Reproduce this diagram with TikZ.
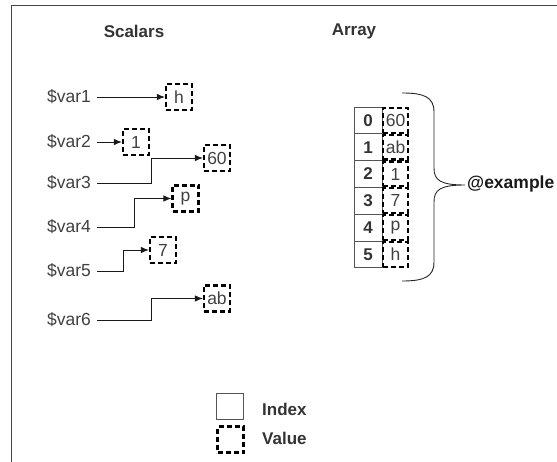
\documentclass[tikz,border=0pt]{standalone}
\usepackage{fontspec}
\setmainfont{Liberation Sans}
\usetikzlibrary{arrows.meta}
\definecolor{txt}{HTML}{404040}
\definecolor{ttl}{HTML}{333333}
\definecolor{frm}{HTML}{444444}
\definecolor{idx}{HTML}{555555}
\tikzset{
  base/.style={font=\fontsize{17.5}{20}\selectfont},
  lbl/.style={base, text=txt, anchor=west, inner xsep=0pt, inner ysep=1pt},
  ttlnode/.style={base, text=ttl, font=\fontsize{17}{20}\selectfont\bfseries},
  valbox/.style={base, text=txt, draw=black, line width=2.2pt, dash pattern=on 5pt off 3pt,
     minimum width=26pt, minimum height=26pt, inner sep=0pt},
  idxbox/.style={base, text=ttl, font=\fontsize{17}{20}\selectfont\bfseries, draw=idx, line width=0.8pt,
     minimum width=28pt, minimum height=26.8pt, inner sep=0pt},
  avalbox/.style={valbox, minimum width=25pt, minimum height=24.8pt},
  conn/.style={draw=black!90, line width=0.9pt, -{Latex[length=8pt,width=6.5pt]}, shorten <=6pt},
}
\begin{document}
\begin{tikzpicture}[x=1pt,y=-1pt]
\useasboundingbox (0,0) rectangle (557,462);
% frame
\draw[frm, line width=1pt] (11.5,462) -- (11.5,6) -- (557,6);
% titles
\node[ttlnode] (tS) at (134,31) {Scalars};
\node[ttlnode] (tA) at (354,31) {Array};
% scalar labels
\node[lbl] (v1) at (47,97) {\$var1};
\node[lbl] (v2) at (47,142) {\$var2};
\node[lbl] (v3) at (47,183) {\$var3};
\node[lbl] (v4) at (47,227) {\$var4};
\node[lbl] (v5) at (47,271) {\$var5};
\node[lbl] (v6) at (47,320) {\$var6};
% scalar values
\node[valbox] (bh) at (179,97) {h};
\node[valbox] (b1) at (136,142) {1};
\node[valbox] (b60) at (217,158) {60};
\node[valbox] (bp) at (185.5,198.5) {p};
\node[valbox] (b7) at (163,250) {7};
\node[valbox] (bab) at (217,298.5) {ab};
% bend points
\coordinate (k3) at (151,183);
\coordinate (k4) at (134,227);
\coordinate (k5) at (123,271);
\coordinate (k6) at (151,320);
% connectors
\draw[conn] (v1.east) -- (bh.west);
\draw[conn] (v2.east) -- (b1.west);
\draw[conn] (v3.east) -- (k3) |- (b60.west);
\draw[conn] (v4.east) -- (k4) |- (bp.west);
\draw[conn] (v5.east) -- (k5) |- (b7.west);
\draw[conn] (v6.east) -- (k6) |- (bab.west);
% array
\foreach \i/\v in {0/60,1/ab,2/1,3/7,4/p,5/h}{
  \node[idxbox] (i\i) at (368,{120.4+26.8*\i}) {\i};
  \node[avalbox] (a\i) at (395.5,{120.4+26.8*\i}) {\v};
}
% brace
\draw[black!85, line width=0.9pt] (402,93) .. controls (424,93) and (434,97) .. (434,112)
  -- (434,168) .. controls (434,180) and (440,185) .. (465,185)
  .. controls (440,185) and (434,190) .. (434,202)
  -- (434,262) .. controls (434,277) and (424,281) .. (402,281);
\coordinate (tip) at (465,185);
\node[ttlnode, text=black!90, font=\fontsize{17.5}{21}\selectfont\bfseries, anchor=west, inner xsep=0pt] (ex) at (467,184) {@example};
% legend
\node[idxbox, minimum width=27pt, minimum height=26pt] (li) at (230,406.5) {};
\node[valbox] (lv) at (230.5,439.5) {};
\node[ttlnode, anchor=west, inner xsep=0pt] (lit) at (262,409) {Index};
\node[ttlnode, anchor=west, inner xsep=0pt] (lvt) at (262,438) {Value};
\end{tikzpicture}
\end{document}
